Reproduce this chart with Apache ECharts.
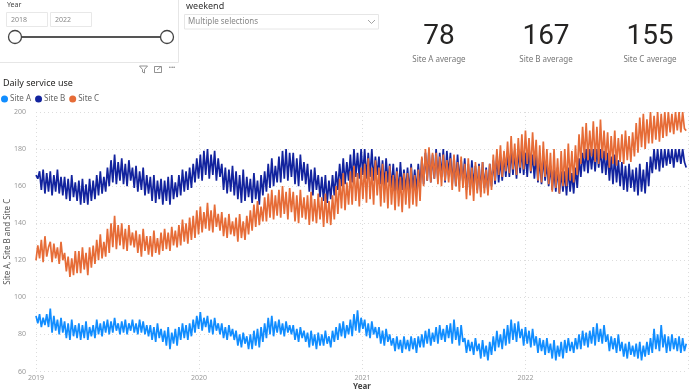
<!DOCTYPE html>
<html>
<head>
<meta charset="utf-8">
<script src="https://cdn.jsdelivr.net/npm/echarts@6/dist/echarts.min.js"></script>
<style>
html,body{margin:0;padding:0;background:#fff;}
#c{width:692px;height:392px;}
</style>
</head>
<body>
<div id="c"></div>
<script>
// ---- data (one value every 4 days from 2019-01-01) ----
const startDate = [2019, 0, 1];
const stepDays = 4;
const seriesNames = ['Site A', 'Site B', 'Site C'];
const yTicks = [60, 80, 100, 120, 140, 160, 180, 200];
const yearTicks = ['2019', '2020', '2021', '2022'];
const cardValues = ['78', '167', '155'];
const cardLabels = ['Site A average', 'Site B average', 'Site C average'];

const siteA = [
90,86,91,84,89,85,91,84, 94,81,90,82,88,80,89,81, 87,78,86,77,88,79,85,78, 86,77,85,78,87,77,84,79,
85,78,88,80,86,79,87,81, 88,80,87,81,89,82,86,80, 87,81,88,80,86,82,88,81, 86,80,88,81,87,80,85,79,
85,77,84,76,86,78,83,76, 82,74,84,72,81,75,83,74, 84,77,86,78,85,77,86,79, 88,81,90,83,92,82,89,84,
90,81,88,80,89,82,86,80, 86,78,84,77,85,79,83,77, 82,74,80,73,81,75,79,72, 80,72,82,74,83,73,84,76,
86,78,89,80,90,79,87,81, 88,80,86,79,87,81,85,80, 85,77,83,76,84,78,82,76, 81,73,82,74,80,72,81,74,
80,74,82,75,79,73,82,76, 84,77,86,79,87,78,85,80, 88,79,91,82,93,81,89,83, 88,79,86,78,87,80,84,78,
84,75,82,74,83,76,80,74, 78,71,79,72,77,70,79,72, 77,71,79,72,78,70,79,73, 80,73,82,75,83,74,81,76,
84,75,85,77,83,76,85,78, 86,75,88,77,84,74,85,76, 78,70,77,71,76,69,78,71, 75,67,77,68,74,66,76,69,
79,71,82,73,80,72,83,74, 85,75,88,77,86,76,87,78, 83,74,84,75,82,73,83,74, 79,70,78,71,77,69,78,70,
75,67,77,66,74,68,76,67, 77,70,78,71,76,70,78,72, 80,72,82,74,81,73,82,75, 84,74,86,76,83,75,85,76,
80,71,79,72,78,70,80,71, 76,68,75,67,76,69,74,68, 75,67,76,66,74,68,76,69, 78,70,83,72,80,71,85,73,
80,70,79,71,80,72,78,71, 79,70,78,71,75
];
const siteB = [
166,164,168,158,169,156,167,157, 168,155,166,157,169,156,165,155, 165,153,164,152,166,154,162,152, 163,150,164,151,161,150,164,152,
163,153,166,155,168,156,165,157, 170,160,174,162,177,161,173,163, 175,161,172,160,174,163,170,159, 171,157,168,158,170,155,166,156,
165,152,166,151,163,153,164,150, 163,152,165,150,166,153,162,154, 166,155,169,157,168,158,170,159, 172,162,175,164,177,163,179,166,
180,164,177,166,179,163,175,165, 172,158,170,156,169,157,171,155, 168,153,166,151,169,152,165,154, 164,151,167,153,163,150,166,155,
168,157,172,159,175,160,171,162, 176,162,179,164,180,163,178,165, 178,161,175,160,177,163,173,161, 172,157,169,155,170,158,166,154,
165,152,166,151,163,153,166,155, 168,158,172,160,175,161,173,163, 177,162,180,165,178,164,180,166, 180,164,178,165,180,163,176,166,
176,161,174,160,175,162,172,159, 172,157,170,156,173,158,169,157, 170,156,172,158,169,157,172,160, 175,161,178,163,180,162,177,164,
180,163,178,165,180,162,179,166, 178,161,176,160,177,163,174,162, 175,158,172,157,174,160,171,158, 172,157,173,159,170,157,172,160,
174,161,177,162,175,163,177,165, 178,165,180,166,179,164,180,167, 180,166,178,165,180,167,177,164, 177,162,175,161,176,163,172,160,
171,158,169,157,170,156,168,157, 168,155,170,157,167,156,170,159, 175,165,178,168,180,167,180,169, 180,168,180,170,180,167,179,166,
178,163,176,161,177,162,174,160, 173,158,171,157,172,159,169,157, 170,155,172,157,169,156,173,160, 176,167,180,169,180,168,180,170,
180,171,180,172,180,170,180,173, 180,172,180,173,170
];
const siteC = [
120,128,121,131,119,133,122,127, 130,119,129,121,127,118,130,120, 124,114,122,111,121,112,125,113, 125,113,127,115,124,112,127,116,
128,118,131,120,134,121,130,122, 137,124,140,127,144,126,139,128, 140,126,137,125,139,128,135,127, 136,124,134,122,137,125,133,123,
133,122,136,124,132,123,135,125, 137,126,135,125,138,128,136,127, 139,128,142,130,140,129,143,131, 144,132,147,134,149,135,146,137,
151,136,147,135,150,138,145,136, 146,133,143,132,145,134,141,133, 143,130,145,132,141,131,144,134, 147,136,150,138,152,139,149,141,
154,141,156,143,158,142,155,144, 158,143,160,145,157,142,159,146, 157,141,155,140,158,143,154,142, 155,139,157,141,153,140,156,142,
154,138,156,140,152,139,155,142, 160,145,164,148,167,147,162,150, 168,150,171,152,167,149,170,153, 172,151,175,153,170,150,174,155,
170,149,172,151,168,148,171,150, 166,147,168,149,165,146,167,150, 167,148,170,150,166,149,169,152, 176,160,180,163,181,162,178,164,
178,161,176,160,177,163,174,162, 175,158,177,160,173,157,176,159, 172,153,175,155,170,152,173,156, 171,154,173,156,169,155,172,158,
177,163,180,166,182,165,179,168, 184,167,187,169,183,166,186,170, 188,169,190,172,186,168,189,171, 185,163,182,162,184,165,180,161,
178,157,180,159,175,156,179,160, 180,160,183,163,179,162,182,166, 188,172,192,175,194,174,190,176, 195,173,192,172,196,175,190,174,
189,170,187,172,190,171,186,173, 188,172,190,174,187,173,189,176, 194,178,197,181,199,180,196,183, 200,183,198,185,200,184,199,186,
200,187,200,189,199,188,200,190, 200,189,200,191,190
];
const seriesValues = [siteA, siteB, siteC];
const seriesColors = ['#118DFF', '#12239E', '#E66C37'];

// ---- build ----
const t0 = new Date(startDate[0], startDate[1], startDate[2]).getTime();
const DAY = 86400000;
function toPairs(arr) { return arr.map((v, i) => [t0 + i * stepDays * DAY, v]); }

const FONT = '"Noto Sans", "Open Sans", sans-serif';
const chart = echarts.init(document.getElementById('c'), null, { renderer: 'canvas' });

const graphics = [
  { type: 'rect', shape: { x: -2, y: -2, width: 180.5, height: 64.5 }, style: { fill: '#fff', stroke: '#e6e6e6', lineWidth: 1 } },
  { type: 'text', x: 7, y: 5, style: { text: 'Year', font: '7px ' + FONT, fill: '#444', verticalAlign: 'middle' } },
  { type: 'rect', shape: { x: 6.5, y: 12.5, width: 41, height: 14 }, style: { fill: '#fff', stroke: '#e8e8e8' } },
  { type: 'text', x: 11, y: 20, style: { text: '2018', font: '7px ' + FONT, fill: '#888', verticalAlign: 'middle' } },
  { type: 'rect', shape: { x: 50.5, y: 12.5, width: 41, height: 14 }, style: { fill: '#fff', stroke: '#e8e8e8' } },
  { type: 'text', x: 55, y: 20, style: { text: '2022', font: '7px ' + FONT, fill: '#888', verticalAlign: 'middle' } },
  { type: 'line', shape: { x1: 15, y1: 37, x2: 167, y2: 37 }, style: { stroke: '#555', lineWidth: 2 } },
  { type: 'circle', shape: { cx: 15, cy: 37, r: 6.5 }, style: { fill: '#fff', stroke: '#444', lineWidth: 1.3 } },
  { type: 'circle', shape: { cx: 167, cy: 37, r: 6.5 }, style: { fill: '#fff', stroke: '#444', lineWidth: 1.3 } },
  { type: 'polygon', shape: { points: [[139.5, 66], [147.5, 66], [144.5, 69.5], [144.5, 73], [142.5, 72], [142.5, 69.5]] }, style: { fill: 'none', stroke: '#777', lineWidth: 0.8 } },
  { type: 'rect', shape: { x: 154.5, y: 66.5, width: 7, height: 6 }, style: { fill: 'none', stroke: '#777', lineWidth: 0.8 } },
  { type: 'polyline', shape: { points: [[157, 70], [161, 66.5]] }, style: { stroke: '#777', lineWidth: 0.8 } },
  { type: 'text', x: 172, y: 68, style: { text: '···', font: 'bold 8px ' + FONT, fill: '#777', align: 'center', verticalAlign: 'middle' } },
  { type: 'text', x: 186, y: 6.5, style: { text: 'weekend', font: '9px ' + FONT, fill: '#333', verticalAlign: 'middle' } },
  { type: 'rect', shape: { x: 184.5, y: 14.5, width: 194, height: 14.5 }, style: { fill: '#fff', stroke: '#e6e6e6' } },
  { type: 'text', x: 188, y: 22, style: { text: 'Multiple selections', font: '8px ' + FONT, fill: '#888', verticalAlign: 'middle' } },
  { type: 'polyline', shape: { points: [[368, 20], [371.5, 23.5], [375, 20]] }, style: { stroke: '#999', lineWidth: 0.9, fill: 'none' } },
  { type: 'text', x: 3, y: 83, style: { text: 'Daily service use', font: '9px ' + FONT, fill: '#252423', verticalAlign: 'middle' } }
];
const cardX = [439, 546, 650];
cardValues.forEach((v, i) => {
  graphics.push({ type: 'text', x: cardX[i], y: 37, style: { text: v, font: '28px Roboto, sans-serif', fill: '#252423', align: 'center', verticalAlign: 'middle' } });
  graphics.push({ type: 'text', x: cardX[i], y: 60, style: { text: cardLabels[i], font: '8px ' + FONT, fill: '#777', align: 'center', verticalAlign: 'middle' } });
});

chart.setOption({
  animation: false,
  backgroundColor: '#fff',
  textStyle: { fontFamily: FONT },
  graphic: graphics,
  legend: {
    left: 1, top: 95, padding: 0, icon: 'circle', itemWidth: 7, itemHeight: 7, itemGap: 4,
    data: seriesNames,
    textStyle: { fontSize: 8, color: '#666', padding: [0, 0, 0, -3] }
  },
  grid: { left: 36, right: 4, top: 112, bottom: 20.5, containLabel: false, outerBoundsMode: 'none' },
  xAxis: {
    type: 'time',
    min: new Date(2019, 0, 1).getTime(),
    max: new Date(2022, 11, 31).getTime(),
    splitNumber: 4,
    minInterval: 365 * DAY,
    name: 'Year', nameLocation: 'middle', nameGap: 11, nameMoveOverlap: false,
    nameTextStyle: { fontSize: 8, color: '#444', fontWeight: 'bold' },
    axisLine: { show: false }, axisTick: { show: false },
    axisLabel: {
      fontSize: 7, color: '#999', margin: 3, showMinLabel: true,
      formatter: function (val) { const d = new Date(val); return (d.getMonth() === 0 && d.getDate() === 1) ? String(d.getFullYear()) : ''; }
    },
    splitLine: { show: true, showMinLine: true, lineStyle: { color: '#dcdcdc', type: [1, 3], width: 1 } }
  },
  yAxis: {
    type: 'value', min: yTicks[0], max: yTicks[yTicks.length - 1], interval: 20,
    name: 'Site A, Site B and Site C', nameLocation: 'middle', nameGap: 24, nameMoveOverlap: false,
    nameTextStyle: { fontSize: 8, color: '#555' },
    axisLine: { show: false }, axisTick: { show: false },
    axisLabel: { fontSize: 7, color: '#999', margin: 10 },
    splitLine: { show: true, lineStyle: { color: '#dcdcdc', type: [1, 3], width: 1 } }
  },
  series: seriesNames.map((n, i) => ({
    name: n, type: 'line', data: toPairs(seriesValues[i]), showSymbol: false, symbol: 'none',
    lineStyle: { width: 1.7, color: seriesColors[i] }, itemStyle: { color: seriesColors[i] },
    emphasis: { disabled: true }, z: 2 + i
  }))
});
</script>
</body>
</html>
